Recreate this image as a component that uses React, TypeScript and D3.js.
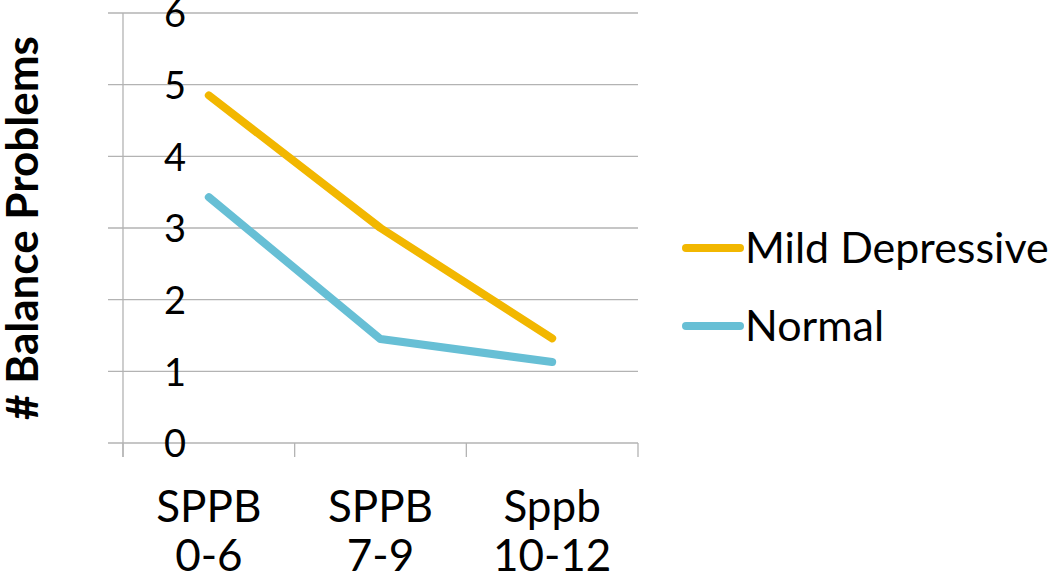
import React from "react";
import * as d3 from "d3";

const categories = ["SPPB|0-6", "SPPB|7-9", "Sppb|10-12"];
const seriesNames = ["Mild Depressive", "Normal"];
const mildValues = [4.85, 3.0, 1.46];
const normalValues = [3.43, 1.45, 1.13];
const yTicks = [0, 1, 2, 3, 4, 5, 6];
const colors = ["#F2B700", "#67BFD5"];

const W = 1050;
const H = 586;
const plot = { left: 123, right: 638, top: 13, bottom: 443 };
const font = "Lato, 'Open Sans', sans-serif";

export default function App() {
  const x = d3.scaleBand<string>().domain(categories).range([plot.left, plot.right]).padding(0);
  const y = d3.scaleLinear().domain([0, 6]).range([plot.bottom, plot.top]);
  const line = d3
    .line<number>()
    .x((_, i) => (x(categories[i]) as number) + x.bandwidth() / 2)
    .y((d) => y(d));
  const series = [mildValues, normalValues];
  const xTickPos = [...categories.map((c) => x(c) as number), plot.right];

  return (
    <svg width={W} height={H} style={{ position: "absolute", left: 0, top: 0, background: "#fff" }}>
      {yTicks.map((t) => (
        <g key={t}>
          <line x1={plot.left - 15} x2={plot.right} y1={y(t)} y2={y(t)} stroke="#B3B3B3" strokeWidth={1.3} />
          <text x={186} y={y(t)} dy="0.38em" textAnchor="end" fontFamily={font} fontSize={38} fill="#000">
            {t}
          </text>
        </g>
      ))}
      <line x1={plot.left} x2={plot.left} y1={plot.top} y2={plot.bottom + 14} stroke="#B3B3B3" strokeWidth={1.3} />
      {xTickPos.map((p, i) => (
        <line key={i} x1={p} x2={p} y1={plot.bottom} y2={plot.bottom + 14} stroke="#B3B3B3" strokeWidth={1.3} />
      ))}
      {categories.map((c) => {
        const [a, b] = c.split("|");
        const cx = (x(c) as number) + x.bandwidth() / 2;
        return (
          <text key={c} x={cx} textAnchor="middle" fontFamily={font} fontSize={44} fill="#000">
            <tspan x={cx} y={522}>{a}</tspan>
            <tspan x={cx} y={571}>{b}</tspan>
          </text>
        );
      })}
      <text
        transform={`translate(38, ${228}) rotate(-90)`}
        textAnchor="middle"
        fontFamily={font}
        fontSize={44}
        fontWeight="bold"
        fill="#000"
      >
        # Balance Problems
      </text>
      {series.map((s, i) => (
        <path
          key={i}
          d={line(s) as string}
          fill="none"
          stroke={colors[i]}
          strokeWidth={8}
          strokeLinecap="round"
          strokeLinejoin="round"
        />
      ))}
      {seriesNames.map((n, i) => {
        const ly = 248 + i * 78;
        return (
          <g key={n}>
            <line x1={686} x2={740} y1={ly} y2={ly} stroke={colors[i]} strokeWidth={8} strokeLinecap="round" />
            <text x={745} y={ly} dy="0.36em" fontFamily={font} fontSize={43} fill="#000">
              {n}
            </text>
          </g>
        );
      })}
    </svg>
  );
}
